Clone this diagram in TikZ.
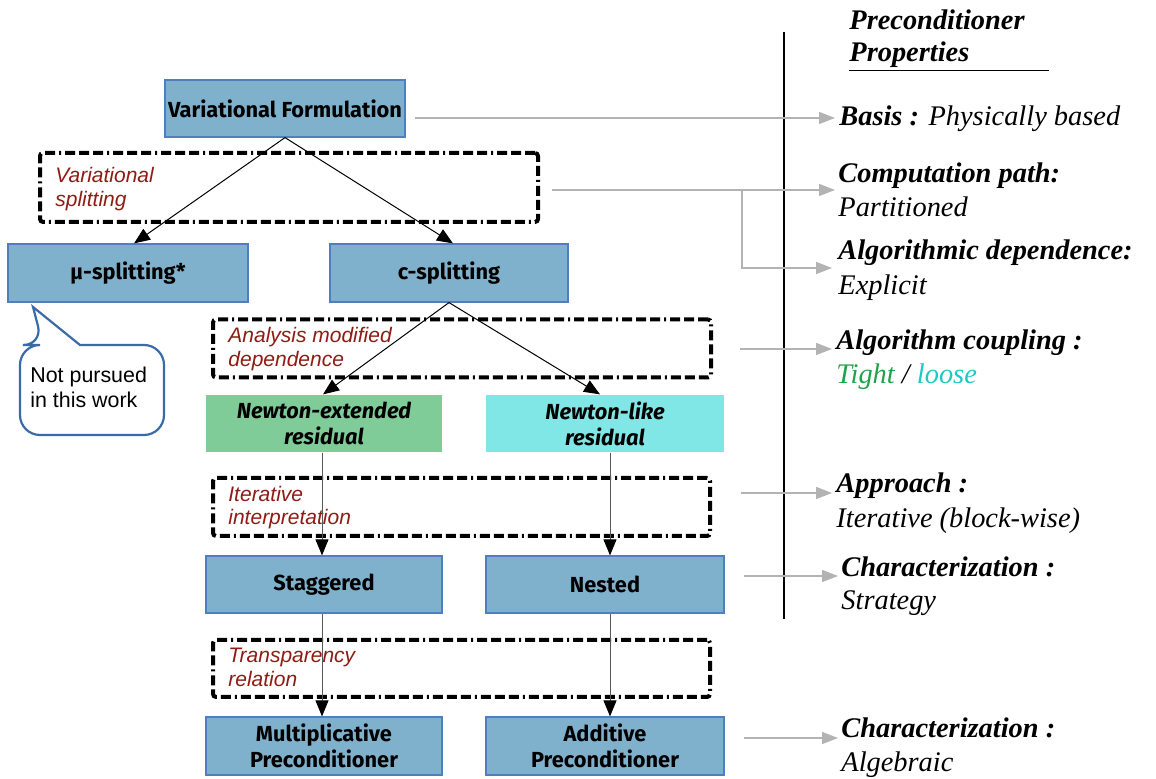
\documentclass[tikz,border=0pt]{standalone}
\usepackage{fontspec}
\setmainfont{Liberation Serif}
\newfontfamily\boxfont{Fira Sans}
\newfontfamily\notefont{Liberation Sans}
\usetikzlibrary{arrows.meta}
\definecolor{boxfill}{HTML}{80B1CC}
\definecolor{boxline}{HTML}{4F7FBE}
\definecolor{greenfill}{HTML}{80CC99}
\definecolor{cyanfill}{HTML}{80E6E6}
\definecolor{labelred}{HTML}{8E1C14}
\definecolor{propgrey}{HTML}{B3B3B3}
\definecolor{bubbleblue}{HTML}{3A6BA8}
\definecolor{tightgreen}{HTML}{1FA34A}
\definecolor{loosecyan}{HTML}{1CC8C8}

\begin{document}
\begin{tikzpicture}[x=0.5pt,y=-0.5pt,
  stagebox/.style={draw=boxline, line width=0.6pt, fill=boxfill, minimum width=119pt,
    minimum height=28.5pt, inner sep=0pt, align=center,
    font=\boxfont\bfseries\fontsize{10.9}{13}\selectfont},
  residbox/.style={stagebox, draw=none, font=\boxfont\bfseries\itshape\fontsize{10.9}{13}\selectfont},
  phasebox/.style={draw=black, line width=2pt, rounded corners=1.5pt, inner sep=0pt,
    dash pattern=on 5pt off 2pt on 5pt off 2pt on 5pt off 2pt on 1pt off 2pt},
  phaselabel/.style={anchor=base west, inner sep=0pt, text=labelred,
    font=\notefont\itshape\fontsize{10.5}{12}\selectfont},
  flow/.style={line width=0.5pt, -{Triangle[length=8pt,width=6.5pt]}},
  vflow/.style={line width=0.5pt, draw=black!65, -{Triangle[length=8pt,width=6.5pt,fill=black,color=black]}},
  proparrow/.style={draw=propgrey, line width=0.8pt, -{Triangle[length=8pt,width=6pt]}},
  prophead/.style={anchor=base west, inner sep=0pt, font=\fontsize{14.2}{16}\selectfont\bfseries\itshape},
  propvalue/.style={anchor=base west, inner sep=0pt, font=\fontsize{14.2}{16}\selectfont\itshape},
]
\useasboundingbox (0,0) rectangle (1156,779);

% ---- dashed phase frames ----
\node[phasebox, minimum width=249pt, minimum height=34.5pt] (d1) at (289,187.5) {};
\node[phasebox, minimum width=249pt, minimum height=29pt] (d2) at (462,348.5) {};
\node[phasebox, minimum width=248.5pt, minimum height=29pt] (d3) at (461.5,507) {};
\node[phasebox, minimum width=248.5pt, minimum height=28.5pt] (d4) at (461.5,668.5) {};

\node[phaselabel] (l1a) at (55,183) {Variational};
\node[phaselabel] (l1b) at (55,207) {splitting};
\node[phaselabel] (l2a) at (228,343) {Analysis modified};
\node[phaselabel] (l2b) at (228,367) {dependence};
\node[phaselabel] (l3a) at (228,502) {Iterative};
\node[phaselabel] (l3b) at (228,525) {interpretation};
\node[phaselabel] (l4a) at (228,663) {Transparency};
\node[phaselabel] (l4b) at (228,687) {relation};

% ---- stage boxes ----
\node[stagebox, minimum width=120pt] (vf) at (285,108.5) {Variational Formulation};
\node[stagebox, minimum width=120pt, minimum height=29pt] (mu) at (128,273) {μ-splitting*};
\node[stagebox, minimum height=29pt] (cs) at (449,273) {c-splitting};
\node[residbox, fill=greenfill, minimum width=118pt] (ne) at (324,423.5) {Newton-extended\\residual};
\node[residbox, fill=cyanfill] (nl) at (605,423.5) {Newton-like\\residual};
\node[stagebox, minimum width=118pt] (st) at (324,584.5) {Staggered};
\node[stagebox] (ns) at (605,584.5) {Nested};
\node[stagebox, minimum width=118pt, minimum height=29pt] (mp) at (324,746) {Multiplicative\\Preconditioner};
\node[stagebox, minimum height=29pt] (ap) at (605,746) {Additive\\Preconditioner};

% ---- flow connectors ----
\draw[flow] (vf.south) -- (mu.north -| 134,0);
\draw[flow] (vf.south) -- (cs.north -| 453,0);
\draw[flow] (cs.south) -- (ne.north -| 323,0);
\draw[flow] (cs.south) -- (nl.north -| 600,0);
\draw[vflow] (ne.south -| 322,0) -- (st.north -| 322,0);
\draw[vflow] (nl.south -| 610,0) -- (ns.north -| 610,0);
\draw[vflow] (st.south -| 322,0) -- (mp.north -| 322,0);
\draw[vflow] (ns.south -| 610,0) -- (ap.north -| 610,0);

% ---- speech bubble ----
\draw[draw=bubbleblue, line width=1.1pt, rounded corners=10pt]
  (92,435) -- (20,435) -- (20,345) -- (43,345) [sharp corners] -- (33,307) -- (80,345)
  [rounded corners=10pt] -- (164,345) -- (164,435) -- cycle;
\node[anchor=base west, inner sep=0pt, font=\notefont\fontsize{10.7}{12}\selectfont] (n1) at (30,383) {Not pursued};
\node[anchor=base west, inner sep=0pt, font=\notefont\fontsize{10.7}{12}\selectfont] (n2) at (30,408) {in this work};

% ---- separator ----
\coordinate (sepTop) at (784,32);
\coordinate (sepBot) at (784,619);
\draw[line width=0.6pt] (sepTop) -- (sepBot);

% ---- property column ----
\node[prophead] (ph1) at (849,30) {Preconditioner};
\node[prophead] (ph2) at (849,62) {\underline{Properties\hspace*{40pt}}};

\node[propvalue] (basis) at (839,126) {\textbf{Basis :} Physically based};
\node[prophead] (comp) at (838,183) {Computation path:};
\node[propvalue] (compv) at (838,217) {Partitioned};
\node[prophead] (alg) at (838,260) {Algorithmic dependence:};
\node[propvalue] (algv) at (838,295) {Explicit};
\node[prophead] (coup) at (836,350) {Algorithm coupling :};
\node[propvalue] (coupv) at (836,384) {\textcolor{tightgreen}{Tight} / \textcolor{loosecyan}{loose}};
\node[prophead] (appr) at (836,493) {Approach :};
\node[propvalue] (apprv) at (836,528) {Iterative (block-wise)};
\node[prophead] (char1) at (841,577) {Characterization :};
\node[propvalue] (char1v) at (841,610) {Strategy};
\node[prophead] (char2) at (841,738) {Characterization :};
\node[propvalue] (char2v) at (841,771) {Algebraic};

% ---- property connectors ----
\coordinate (s1) at (415,118);   \coordinate (t1) at (835,118);
\coordinate (s2) at (552,190);   \coordinate (t2) at (835,190);
\coordinate (b2) at (742,190);   \coordinate (t3) at (832,268);
\coordinate (s4) at (740,349);   \coordinate (t4) at (832,349);
\coordinate (s5) at (741,493);   \coordinate (t5) at (832,493);
\coordinate (s6) at (744,576);   \coordinate (t6) at (838,576);
\coordinate (s7) at (744,738);   \coordinate (t7) at (838,738);
\draw[proparrow] (s1) -- (t1);
\draw[proparrow] (s2) -- (t2);
\draw[proparrow] (b2) |- (t3);
\draw[proparrow] (s4) -- (t4);
\draw[proparrow] (s5) -- (t5);
\draw[proparrow] (s6) -- (t6);
\draw[proparrow] (s7) -- (t7);
\end{tikzpicture}
\end{document}
